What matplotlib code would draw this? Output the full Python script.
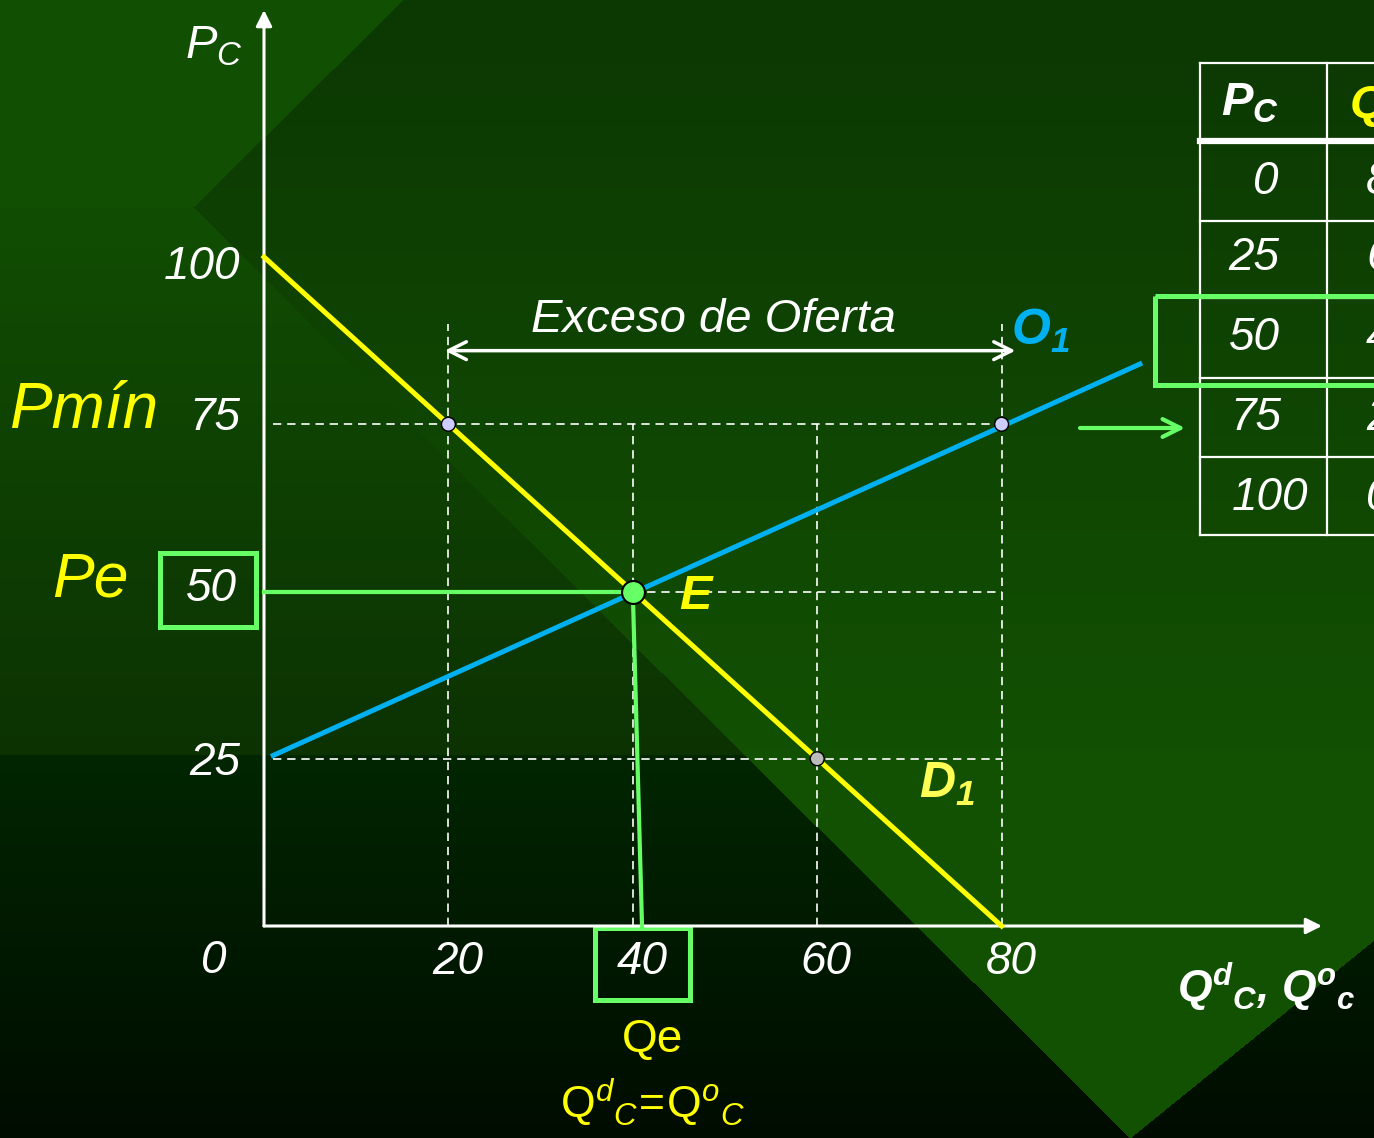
import numpy as np
import matplotlib
matplotlib.use('Agg')
import matplotlib.pyplot as plt
from matplotlib.patches import Rectangle

plt.rcParams['font.family'] = ['Liberation Sans', 'DejaVu Sans']
plt.rcParams['mathtext.fontset'] = 'custom'
plt.rcParams['mathtext.rm'] = 'Liberation Sans'
plt.rcParams['mathtext.it'] = 'Liberation Sans:italic'
plt.rcParams['mathtext.bf'] = 'Liberation Sans:italic:bold'

# demand and supply
q_dem = [0, 80]
p_dem = [100, 0]
q_sup = [1, 95]
p_sup = [25.5, 84]
q_eq = 40
p_eq = 50
# small marked points: demand at Pmin, supply at Pmin, demand at 25
q_pts = [20, 80, 60]
p_pts = [75, 75, 25]
p_min = 75
price_ticks = [25, 50, 75, 100]
qty_ticks = [20, 40, 60, 80]
# schedule table (second column is cut by the slide edge)
tab_pc = [0, 25, 50, 75, 100]
tab_qd = [80, 60, 40, 20, 0]

W, H = 1374, 1138
# pixel -> data mapping of the hand drawn axes
X0, Y0 = 264, 926
SX, SY = 9.22, 6.69


def px(x):
    return (x - X0) / SX


def py(y):
    return (Y0 - y) / SY


YEL = '#ffff00'
BLUE = '#00b0f0'
GRN = '#66ff66'

# slide background (diagonal template shapes)
yy, xx = np.mgrid[0:H, 0:W].astype(float)


def grad(c0, c1, y0, y1):
    t = np.clip((yy - y0) / (y1 - y0), 0, 1)[..., None]
    return (np.array(c0) + (np.array(c1) - np.array(c0)) * t) / 255.


xl1 = 193 + (yy - 207) * 937 / 931
xt = 193 + (207 - yy) * 210 / 207
xr = 1130 + (1138 - yy) * 244 / 198
left = xx < xl1
bg = grad((12, 56, 2), (18, 80, 2), 0, 750)
mid = grad((17, 78, 2), (12, 50, 2), 207, 755)
dark = grad((2, 38, 0), (0, 12, 0), 755, 1138)
bg = np.where((left & (yy < 755))[..., None], mid, bg)
bg = np.where((left & (yy >= 755))[..., None], dark, bg)
bg = np.where(((yy > 940) & (xx > xr))[..., None], dark, bg)
bg = np.where(((yy < 207) & (xx < xt))[..., None], np.array([17, 80, 2]) / 255., bg)

fig = plt.figure(figsize=(W / 100, H / 100), dpi=100)
axb = fig.add_axes([0, 0, 1, 1])
axb.imshow(bg, extent=(0, W, H, 0), aspect='auto', interpolation='bilinear')
axb.set_xlim(0, W)
axb.set_ylim(H, 0)
axb.axis('off')

ax = fig.add_axes([0, 0, 1, 1])
ax.set_xlim(px(0), px(W))
ax.set_ylim(py(H), py(0))
ax.axis('off')
ax.patch.set_alpha(0)

# axes with arrows
arw = dict(arrowstyle='-|>', color='white', lw=2.2, mutation_scale=24, shrinkA=0, shrinkB=0)
ax.annotate('', xy=(0, py(10)), xytext=(0, 0), arrowprops=arw)
ax.annotate('', xy=(px(1322), 0), xytext=(0, 0), arrowprops=arw)

# dashed guide lines
dash = dict(color='white', lw=1.2, ls=(0, (5, 3.5)), zorder=2)
ax.plot([1, q_pts[1]], [p_min, p_min], **dash)
ax.plot([q_eq, q_pts[1]], [p_eq, p_eq], **dash)
ax.plot([1, q_pts[1]], [price_ticks[0], price_ticks[0]], **dash)
for q in qty_ticks:
    top = 90 if q in (q_pts[0], q_pts[1]) else p_min
    ax.plot([q, q], [0, top], **dash)

# curves
ax.plot(q_dem, p_dem, color=YEL, lw=3.6, zorder=3)
ax.plot(q_sup, p_sup, color=BLUE, lw=3.6, zorder=3)

# equilibrium guides
ax.plot([0, q_eq], [p_eq, p_eq], color=GRN, lw=3, zorder=4)
ax.plot([q_eq, q_eq + 1], [p_eq, 0], color=GRN, lw=3, zorder=4)

ax.scatter(q_pts, p_pts, s=100, c=['#ccccff', '#ccccff', '#bbbbbb'],
           edgecolors='black', linewidths=1, zorder=5)
ax.plot(q_eq, p_eq, 'o', ms=16.5, mfc=GRN, mec='black', mew=1.5, zorder=6)

# excess supply arrow
ax.annotate('', xy=(q_pts[0] - 0.4, 86), xytext=(q_pts[1] + 1.5, 86),
            arrowprops=dict(arrowstyle='<->', color='white', lw=2.5,
                            mutation_scale=32, shrinkA=0, shrinkB=0))
ax.text(48.7, 90.6, 'Exceso de Oferta', color='white', fontsize=34,
        style='italic', ha='center', va='center')

# tick labels (the slide places them by hand, small nudges)
nudge = {25: -0.6, 50: 0.0, 75: 1.0, 100: -1.5}
for p in price_ticks:
    if p == p_eq:
        ax.text(-5.7, p + 0.3, str(p), color='white', fontsize=33, style='italic',
                ha='center', va='center')
    else:
        ax.text(-2.6, p + nudge[p], str(p), color='white', fontsize=33, style='italic',
                ha='right', va='center')
for q in qty_ticks:
    ax.text(q + 1, -5.4, str(q), color='white', fontsize=33, style='italic',
            ha='center', va='center')
ax.text(-5.4, -5.2, '0', color='white', fontsize=33, style='italic',
        ha='center', va='center')

# labels
ax.text(-8.6, 131.4, r'$P_C$', color='white', fontsize=34, ha='left', va='center')
ax.text(-27.6, p_min + 2, 'Pmín', color=YEL, fontsize=46, style='italic',
        ha='left', va='center')
ax.text(-23.0, p_eq + 1.7, 'Pe', color=YEL, fontsize=45, style='italic',
        ha='left', va='center')
ax.text(45.0, p_eq - 0.8, r'$\mathbf{E}$', color=YEL, fontsize=35, ha='left', va='center')
ax.text(81.0, 89.0, r'$\mathbf{O}_{\mathbf{1}}$', color=BLUE, fontsize=36,
        ha='left', va='center')
ax.text(71.0, 21.2, r'$\mathbf{D}_{\mathbf{1}}$', color='#ffff55', fontsize=36,
        ha='left', va='center')
ax.text(99.0, -9.2, r'$\mathbf{Q}^{\mathbf{d}}{}_{\mathbf{C}}\mathbf{,}\ \mathbf{Q}^{\mathbf{o}}{}_{\mathbf{c}}$',
        color='white', fontsize=32, ha='left', va='center')
ax.text(42.1, -17.0, 'Qe', color=YEL, fontsize=33, ha='center', va='center')
ax.text(42.1, -26.5, r'$\mathrm{Q}^{d}{}_{C}\!=\!\mathrm{Q}^{o}{}_{C}$', color=YEL,
        fontsize=32, ha='center', va='center')

# green highlight boxes
axb.add_patch(Rectangle((160, 553), 96, 74, fill=False, ec=GRN, lw=3.6, zorder=7))
axb.add_patch(Rectangle((595, 928), 95, 72, fill=False, ec=GRN, lw=3.6, zorder=7))

# schedule table
tline = dict(color='white', lw=1.6)
axb.plot([1200, W], [63, 63], **tline)
axb.plot([1200, W], [141, 141], color='white', lw=4.5)
for yl in [221, 298, 378, 457, 535]:
    axb.plot([1200, W], [yl, yl], **tline)
axb.plot([1200, 1200], [63, 535], **tline)
axb.plot([1327, 1327], [63, 535], **tline)
axb.text(1250, 103, r'$\mathbf{P}_{\mathbf{C}}$', color='white', fontsize=34,
         ha='center', va='center')
axb.text(1349, 103, r'$\mathbf{Q}^{\mathbf{d}}{}_{\mathbf{C}}$', color=YEL, fontsize=34,
         ha='left', va='center')
row_y = [182, 258, 338, 418, 498]
pc_x = [1266, 1254, 1254, 1256, 1270]
for yc, xc, pc, qd in zip(row_y, pc_x, tab_pc, tab_qd):
    axb.text(xc, yc, str(pc), color='white', fontsize=33, style='italic',
             ha='center', va='center')
    axb.text(1366, yc, str(qd), color='white', fontsize=33, style='italic',
             ha='left', va='center')
axb.add_patch(Rectangle((1155, 296), 260, 89, fill=False, ec=GRN, lw=3.6, zorder=7))
axb.annotate('', xy=(1185, 428), xytext=(1080, 428),
             arrowprops=dict(arrowstyle='->', color=GRN, lw=3, mutation_scale=32,
                             shrinkA=0, shrinkB=0))

fig.savefig('out.png', dpi=100)
